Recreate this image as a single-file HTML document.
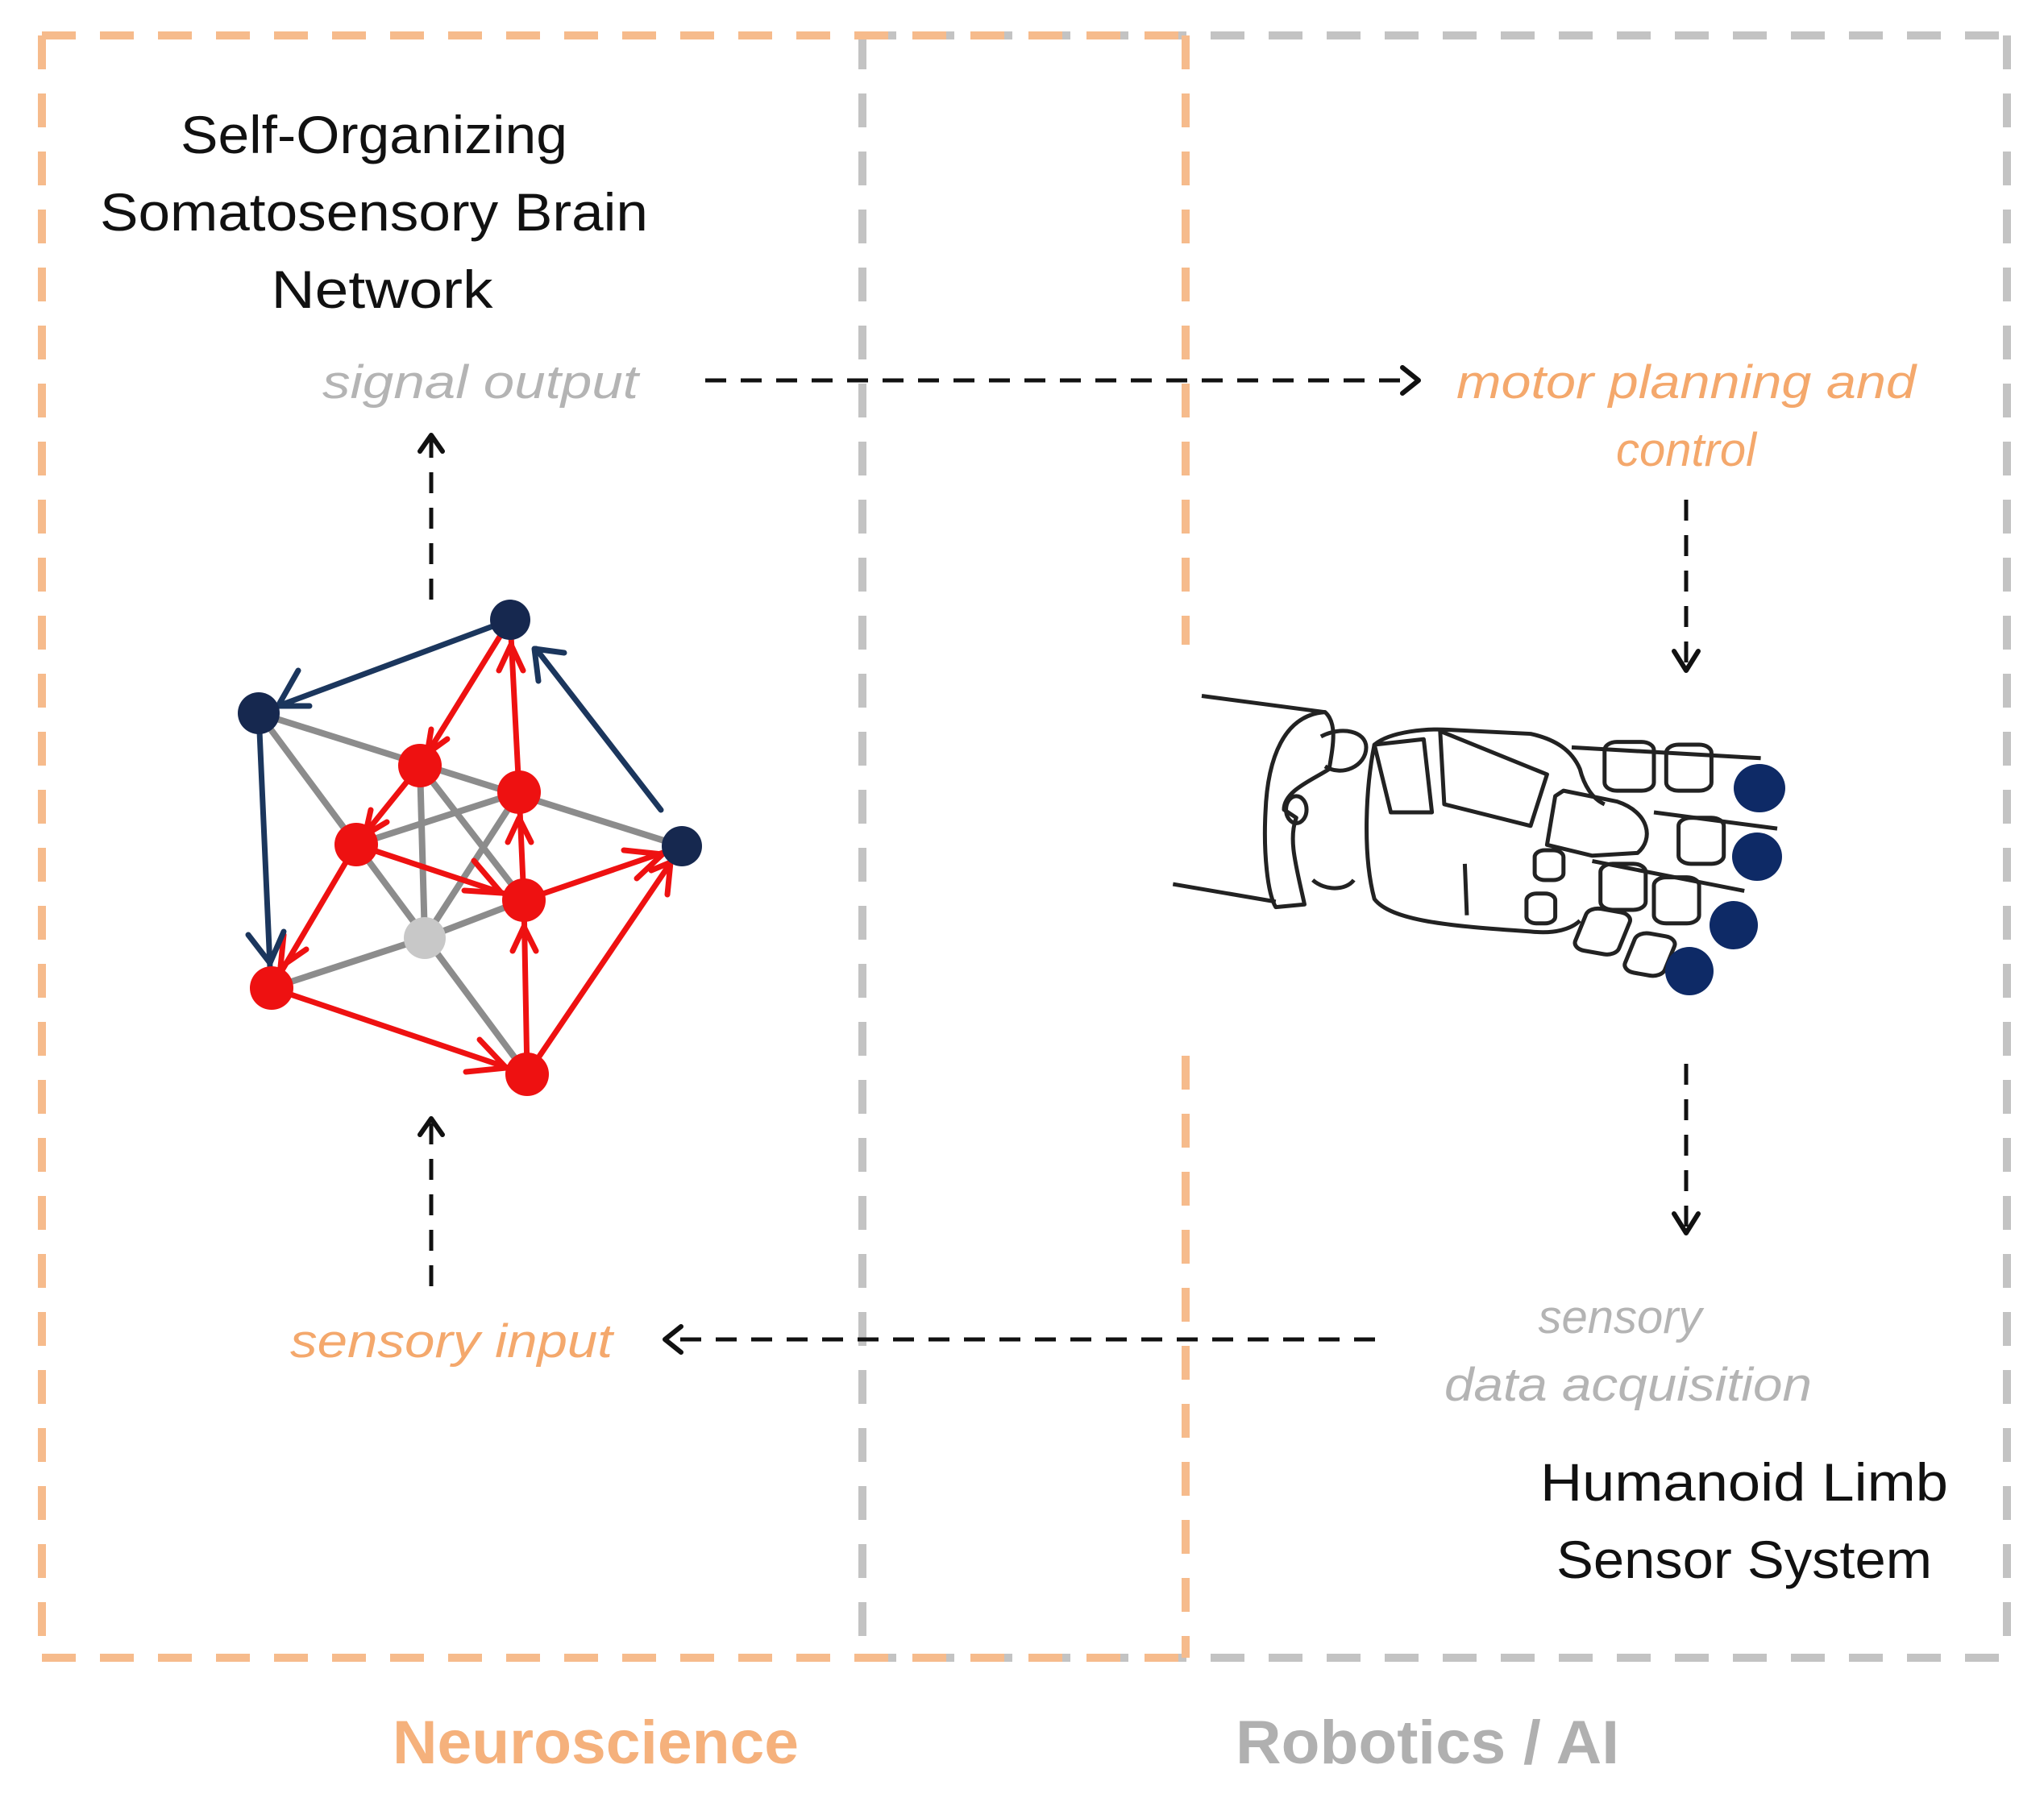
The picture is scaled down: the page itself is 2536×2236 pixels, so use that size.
<!DOCTYPE html>
<html><head><meta charset="utf-8"><style>
html,body{margin:0;padding:0;background:#fff}
svg{display:block}
text{font-family:"Liberation Sans",sans-serif}
</style></head><body>
<svg width="2536" height="2236" viewBox="0 0 2536 2236" xmlns="http://www.w3.org/2000/svg">
<g fill="none" stroke="#c3c3c3" stroke-width="10" stroke-dasharray="42 30">
<line x1="1070" y1="44" x2="2490" y2="44"/>
<line x1="2490" y1="44" x2="2490" y2="2057"/>
<line x1="1070" y1="2057" x2="2490" y2="2057"/>
<line x1="1070" y1="44" x2="1070" y2="2057"/>
</g>
<g fill="none" stroke="#f6bb8c" stroke-width="10" stroke-dasharray="42 30">
<line x1="52" y1="44" x2="1471" y2="44"/>
<line x1="52" y1="44" x2="52" y2="2057"/>
<line x1="52" y1="2057" x2="1471" y2="2057"/>
<line x1="1471" y1="44" x2="1471" y2="800"/>
<line x1="1471" y1="1310" x2="1471" y2="2057"/>
</g>

<g font-size="66" fill="#111" text-anchor="middle">
<text x="464" y="190" textLength="480" lengthAdjust="spacingAndGlyphs">Self-Organizing</text>
<text x="464" y="286" textLength="680" lengthAdjust="spacingAndGlyphs">Somatosensory Brain</text>
<text x="474" y="382" textLength="275" lengthAdjust="spacingAndGlyphs">Network</text>
<text x="2164" y="1862" textLength="506" lengthAdjust="spacingAndGlyphs">Humanoid Limb</text>
<text x="2164" y="1958" textLength="466" lengthAdjust="spacingAndGlyphs">Sensor System</text>
</g>
<g font-size="58" font-style="italic" text-anchor="middle">
<text x="596" y="494" fill="#b4b4b4" textLength="392" lengthAdjust="spacingAndGlyphs">signal  output</text>
<text x="2092" y="494" fill="#f4a86c" textLength="570" lengthAdjust="spacingAndGlyphs">motor planning and</text>
<text x="2092" y="578" fill="#f4a86c">control</text>
<text x="2010" y="1654" fill="#b4b4b4">sensory</text>
<text x="2020" y="1738" fill="#b4b4b4" textLength="456" lengthAdjust="spacingAndGlyphs">data acquisition</text>
<text x="560" y="1684" fill="#f4a86c" textLength="400" lengthAdjust="spacingAndGlyphs">sensory  input</text>
</g>
<g font-size="76" font-weight="bold" text-anchor="middle">
<text x="739" y="2188" fill="#f5b17c" textLength="504" lengthAdjust="spacingAndGlyphs">Neuroscience</text>
<text x="1771" y="2188" fill="#b0b0b0" textLength="476" lengthAdjust="spacingAndGlyphs">Robotics / AI</text>
</g>

<g stroke="#111" stroke-width="5" fill="none" stroke-dasharray="26 18">
<line x1="875" y1="472" x2="1752" y2="472"/>
<line x1="2092" y1="620" x2="2092" y2="830"/>
<line x1="2092" y1="1320" x2="2092" y2="1528"/>
<line x1="1706" y1="1662" x2="830" y2="1662"/>
<line x1="535" y1="744" x2="535" y2="545"/>
<line x1="535" y1="1596" x2="535" y2="1392"/>
</g>
<g stroke="#111" stroke-width="6" fill="none" stroke-linecap="round" stroke-linejoin="round">
<polyline points="1740,456 1760,472 1740,488"/>
<polyline points="2077,808 2092,832 2107,808"/>
<polyline points="2077,1506 2092,1530 2107,1506"/>
<polyline points="845,1646 825,1662 845,1678"/>
<polyline points="521,560 535,540 549,560"/>
<polyline points="521,1408 535,1388 549,1408"/>
</g>

<g stroke="#8c8c8c" stroke-width="8" stroke-linecap="round">
<line x1="321" y1="885" x2="846" y2="1050"/>
<line x1="321" y1="885" x2="654" y2="1333"/>
<line x1="442" y1="1048" x2="644" y2="983"/>
<line x1="521" y1="950" x2="527" y2="1164"/>
<line x1="521" y1="950" x2="650" y2="1117"/>
<line x1="644" y1="983" x2="527" y2="1164"/>
<line x1="527" y1="1164" x2="650" y2="1117"/>
<line x1="527" y1="1164" x2="337" y2="1226"/>
</g>
<g stroke="#ee1111" stroke-width="7" fill="none" stroke-linecap="round" stroke-linejoin="round">
<line x1="633" y1="769" x2="521" y2="950"/><polyline points="535,905 530,935 555,917"/>
<line x1="521" y1="950" x2="442" y2="1048"/><polyline points="460,1005 453,1036 480,1020"/>
<line x1="644" y1="983" x2="633" y2="769"/><polyline points="619,832 634,800 649,832"/>
<line x1="650" y1="1117" x2="644" y2="983"/><polyline points="630,1045 644,1015 659,1045"/>
<line x1="442" y1="1048" x2="650" y2="1117"/><polyline points="588,1068 622,1108 576,1105"/>
<line x1="650" y1="1117" x2="846" y2="1050"/><polyline points="774,1055 822,1060 790,1090"/>
<line x1="654" y1="1333" x2="650" y2="1117"/><polyline points="636,1180 650,1150 665,1180"/>
<line x1="654" y1="1333" x2="846" y2="1050"/><polyline points="808,1080 832,1070 828,1110"/>
<line x1="442" y1="1048" x2="337" y2="1226"/><polyline points="352,1160 348,1200 380,1178"/>
<line x1="337" y1="1226" x2="654" y2="1333"/><polyline points="595,1290 628,1325 578,1330"/>
</g>
<g stroke="#1b365d" stroke-width="7" fill="none" stroke-linecap="round" stroke-linejoin="round">
<line x1="633" y1="769" x2="321" y2="885"/><polyline points="370,832 345,876 384,876"/>
<line x1="321" y1="885" x2="335" y2="1200"/><polyline points="308,1160 335,1195 352,1156"/>
<line x1="820" y1="1005" x2="665" y2="805"/><polyline points="668,845 663,805 700,810"/>
</g>
<g>
<circle cx="527" cy="1164" r="26" fill="#c8c8c8"/>
<circle cx="521" cy="950" r="27" fill="#ee1111"/>
<circle cx="644" cy="983" r="27" fill="#ee1111"/>
<circle cx="442" cy="1048" r="27" fill="#ee1111"/>
<circle cx="650" cy="1117" r="27" fill="#ee1111"/>
<circle cx="337" cy="1226" r="27" fill="#ee1111"/>
<circle cx="654" cy="1333" r="27" fill="#ee1111"/>
<circle cx="633" cy="769" r="25" fill="#16284f"/>
<circle cx="321" cy="885" r="26" fill="#16284f"/>
<circle cx="846" cy="1050" r="25" fill="#16284f"/>
</g>

<g transform="translate(1440,840) scale(0.51,0.336)" fill="none" stroke="#222" stroke-width="5" stroke-linejoin="round">
<path vector-effect="non-scaling-stroke" d="M100,70 L400,130"/>
<path vector-effect="non-scaling-stroke" d="M30,765 L280,830"/>
<path vector-effect="non-scaling-stroke" d="M400,130 C300,140 260,300 255,500 C250,650 260,800 280,850 L350,840 C330,700 310,600 330,520 L300,490 C300,420 370,380 410,340 C420,250 430,170 400,130 Z"/>
<path vector-effect="non-scaling-stroke" d="M390,220 C440,180 500,200 500,260 C500,330 440,370 400,330"/>
<ellipse vector-effect="non-scaling-stroke" cx="330" cy="490" rx="25" ry="50"/>
<path vector-effect="non-scaling-stroke" d="M520,250 C560,200 650,190 700,195 L900,210 C960,230 1000,270 1020,340 C1030,400 1050,450 1080,470"/>
<path vector-effect="non-scaling-stroke" d="M520,250 C500,400 490,650 520,820 C560,900 700,920 900,940 C960,950 1000,930 1020,900"/>
<path vector-effect="non-scaling-stroke" d="M520,250 L640,230 L660,500 L560,500 Z"/>
<path vector-effect="non-scaling-stroke" d="M680,200 L940,360 L900,550 L690,470 Z"/>
<path vector-effect="non-scaling-stroke" d="M980,420 L1110,460 C1190,500 1200,600 1160,650 L1050,660 L940,620 L960,440 Z"/>
<path vector-effect="non-scaling-stroke" d="M370,750 C400,790 450,790 470,750"/>
<path vector-effect="non-scaling-stroke" d="M740,690 L745,880"/>
<rect vector-effect="non-scaling-stroke" x="1080" y="240" width="120" height="180" rx="30"/>
<rect vector-effect="non-scaling-stroke" x="1230" y="250" width="110" height="170" rx="30"/>
<rect vector-effect="non-scaling-stroke" x="1260" y="520" width="110" height="170" rx="30"/>
<rect vector-effect="non-scaling-stroke" x="1070" y="690" width="110" height="170" rx="30"/>
<rect vector-effect="non-scaling-stroke" x="1200" y="740" width="110" height="170" rx="30"/>
<rect vector-effect="non-scaling-stroke" x="1020" y="860" width="110" height="160" rx="30" transform="rotate(15 1075 940)"/>
<rect vector-effect="non-scaling-stroke" x="1140" y="950" width="100" height="150" rx="30" transform="rotate(15 1190 1025)"/>
<rect vector-effect="non-scaling-stroke" x="910" y="640" width="70" height="110" rx="25"/>
<rect vector-effect="non-scaling-stroke" x="890" y="800" width="70" height="110" rx="25"/>
<path vector-effect="non-scaling-stroke" d="M1000,260 L1460,300"/>
<path vector-effect="non-scaling-stroke" d="M1200,500 L1500,560"/>
<path vector-effect="non-scaling-stroke" d="M1050,680 L1420,790"/>
</g>
<g fill="#0e2a66">
<ellipse cx="2183" cy="978" rx="32" ry="30"/>
<ellipse cx="2180" cy="1063" rx="31" ry="30"/>
<ellipse cx="2151" cy="1148" rx="30" ry="30"/>
<ellipse cx="2096" cy="1205" rx="30" ry="30"/>
</g>
</svg>
</body></html>
